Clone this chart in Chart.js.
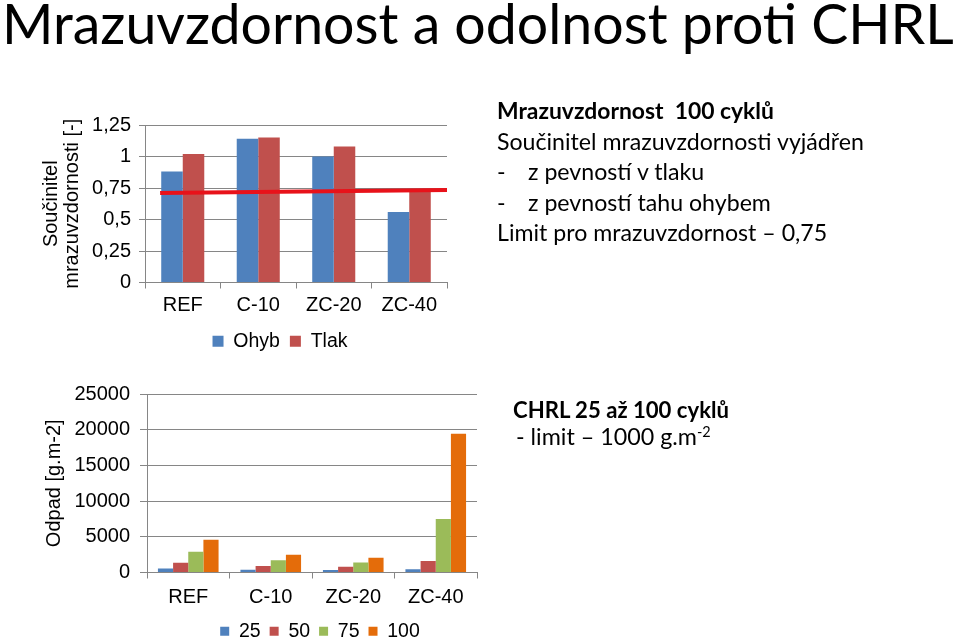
<!DOCTYPE html>
<html><head><meta charset="utf-8">
<script src="https://cdn.jsdelivr.net/npm/chart.js@4/dist/chart.umd.min.js"></script>
<style>
html,body{margin:0;padding:0;background:#fff;width:960px;height:639px;overflow:hidden;position:relative;}
#w1{position:absolute;left:30px;top:100px;width:440px;height:261px;}
#w2{position:absolute;left:30px;top:372px;width:460px;height:279px;}
#ov{position:absolute;left:0;top:0;}
#ov text{fill:#000;white-space:pre;}
</style></head><body>
<div id="w1"><canvas id="c1"></canvas></div>
<div id="w2"><canvas id="c2"></canvas></div>
<svg id="ov" width="960" height="639" xmlns="http://www.w3.org/2000/svg">
  <text data-w="952" x="2" y="44" font-family="Lato, 'Open Sans', sans-serif" font-size="60">Mrazuvzdornost a odolnost proti CHRL</text>
  <text data-w="277" x="497" y="119" font-family="Lato, 'Open Sans', sans-serif" font-weight="bold" font-size="24">Mrazuvzdornost  100 cyklů</text>
  <text class="blk" data-w="367" x="497" y="149.5" font-family="Lato, 'Open Sans', sans-serif" font-size="24">Součinitel mrazuvzdornosti vyjádřen</text>
  <text class="blk" x="497" y="180" font-family="Lato, 'Open Sans', sans-serif" font-size="24">-</text>
  <text class="blk" x="528" y="180" font-family="Lato, 'Open Sans', sans-serif" font-size="24">z pevností v tlaku</text>
  <text class="blk" x="497" y="210.5" font-family="Lato, 'Open Sans', sans-serif" font-size="24">-</text>
  <text class="blk" x="528" y="210.5" font-family="Lato, 'Open Sans', sans-serif" font-size="24">z pevností tahu ohybem</text>
  <text class="blk" x="497" y="241" font-family="Lato, 'Open Sans', sans-serif" font-size="24">Limit pro mrazuvzdornost – 0,75</text>
  <text data-w="216" x="513" y="418" font-family="Lato, 'Open Sans', sans-serif" font-weight="bold" font-size="22">CHRL 25 až 100 cyklů</text>
  <text id="lim" x="516" y="445" font-family="Lato, 'Open Sans', sans-serif" font-size="20">- limit – 1000 g.m<tspan id="sup" dy="-8" font-size="13">-2</tspan></text>
</svg>
<script>
// ---- data ----
const categories = ['REF', 'C-10', 'ZC-20', 'ZC-40'];
const ohyb = [0.88, 1.14, 1.00, 0.56];
const tlak = [1.02, 1.15, 1.08, 0.74];
// limit line: positions in category units along the x axis (0 = left edge of REF, 4 = right edge of ZC-40)
const limitX = [0.2, 4.0];
const limitY = [0.71, 0.735];
const topTickLabels = ['0', '0,25', '0,5', '0,75', '1', '1,25'];

const s25  = [550, 400, 350, 450];
const s50  = [1350, 900, 800, 1600];
const s75  = [2900, 1700, 1400, 7500];
const s100 = [4600, 2500, 2050, 19450];
const bottomTickLabels = ['0', '5000', '10000', '15000', '20000', '25000'];

// ---- text fitting (SVG overlay) ----
(function fitTexts(){
  const texts = document.querySelectorAll('#ov text[data-w]');
  let blkSize = null;
  texts.forEach(t => {
    const fs = parseFloat(t.getAttribute('font-size'));
    const w = t.getComputedTextLength();
    const target = parseFloat(t.getAttribute('data-w'));
    const nfs = fs * target / w;
    t.setAttribute('font-size', nfs.toFixed(2));
    if (t.classList.contains('blk')) blkSize = nfs;
  });
  if (blkSize) document.querySelectorAll('#ov text.blk').forEach(t => t.setAttribute('font-size', blkSize.toFixed(2)));
  const lim = document.getElementById('lim');
  const sup = document.getElementById('sup');
  const fs = parseFloat(lim.getAttribute('font-size'));
  const wAll = lim.getComputedTextLength();
  const wSup = sup.getComputedTextLength();
  const nfs = fs * 181 / (wAll - wSup);
  lim.setAttribute('font-size', nfs.toFixed(2));
  sup.setAttribute('font-size', (nfs * 0.62).toFixed(2));
})();

// ---- charts ----
const GRID = '#868686';
const FONT = 'Liberation Sans, Arial, sans-serif';

const shiftLegend = {
  id: 'shiftLegend',
  afterLayout(chart, args, opts) {
    const lg = chart.legend;
    if (lg && opts && opts.dx) { lg.left += opts.dx; lg.right += opts.dx; }
  }
};

function fmt(labels, step) {
  return (v) => {
    const i = Math.round(v / step);
    return labels[i] !== undefined ? labels[i] : '';
  };
}

const TOP_PLOT_W = 302; // chart area width of the upper chart (px)

new Chart(document.getElementById('c1'), {
  type: 'bar',
  plugins: [shiftLegend],
  data: {
    datasets: [
      { label: 'Ohyb', data: ohyb.map((v, i) => ({ x: i + 0.5, y: v })), backgroundColor: '#4f81bd', order: 1 },
      { label: 'Tlak', data: tlak.map((v, i) => ({ x: i + 0.5, y: v })), backgroundColor: '#c0504d', order: 1 },
      { type: 'line', label: 'limit',
        data: limitX.map((x, i) => ({ x: x, y: limitY[i] })),
        borderColor: '#e8121a', borderWidth: 4, pointRadius: 0, fill: false, order: 0 }
    ]
  },
  options: {
    responsive: true, maintainAspectRatio: false, animation: false,
    layout: { padding: { top: 25, right: 23, bottom: 0, left: 0 } },
    datasets: { bar: { categoryPercentage: 0.57, barPercentage: 1.0 } },
    scales: {
      x: {
        type: 'linear', min: 0, max: categories.length, offset: false,
        afterFit: s => { s.height = 39; },
        grid: { display: true, offset: false, drawOnChartArea: false, drawTicks: true, tickLength: 6, color: GRID },
        border: { display: true, color: GRID, width: 1 },
        ticks: { stepSize: 1, color: '#000', font: { family: FONT, size: 20 }, padding: 5, maxRotation: 0,
                 autoSkip: false, labelOffset: TOP_PLOT_W / categories.length / 2,
                 callback: (v) => (categories[v] !== undefined ? categories[v] : '') }
      },
      y: {
        min: 0, max: 1.25,
        afterFit: s => { s.width = 115; },
        grid: { color: GRID, tickLength: 6, drawTicks: true },
        border: { display: true, color: GRID, width: 1 },
        ticks: { stepSize: 0.25, color: '#000', font: { family: FONT, size: 20 }, padding: 8,
                 callback: fmt(topTickLabels, 0.25) },
        title: { display: true, text: ['Součinitel', 'mrazuvzdornosti [-]'], color: '#000',
                 font: { family: FONT, size: 20, lineHeight: 1.05 }, padding: { top: 10.5, bottom: 0 } }
      }
    },
    plugins: {
      tooltip: { enabled: false },
      shiftLegend: { dx: -16 },
      legend: {
        position: 'bottom', fullSize: false,
        labels: { color: '#000', font: { family: FONT, size: 19.5 }, boxWidth: 11, boxHeight: 11, padding: 10,
                  filter: (item) => item.datasetIndex < 2 }
      }
    }
  }
});

new Chart(document.getElementById('c2'), {
  type: 'bar',
  plugins: [shiftLegend],
  data: {
    labels: categories,
    datasets: [
      { label: '25', data: s25, backgroundColor: '#4f81bd' },
      { label: '50', data: s50, backgroundColor: '#c0504d' },
      { label: '75', data: s75, backgroundColor: '#9bbb59' },
      { label: '100', data: s100, backgroundColor: '#e46c0a' }
    ]
  },
  options: {
    responsive: true, maintainAspectRatio: false, animation: false,
    layout: { padding: { top: 20, right: 13, bottom: 0, left: 0 } },
    datasets: { bar: { categoryPercentage: 0.735, barPercentage: 1.0 } },
    scales: {
      x: {
        afterFit: s => { s.height = 40; },
        grid: { display: true, offset: true, drawOnChartArea: false, drawTicks: true, tickLength: 6, color: GRID },
        border: { display: true, color: GRID, width: 1 },
        ticks: { color: '#000', font: { family: FONT, size: 20 }, padding: 7, maxRotation: 0 }
      },
      y: {
        min: 0, max: 25000,
        afterFit: s => { s.width = 117; },
        grid: { color: GRID, tickLength: 7, drawTicks: true },
        border: { display: true, color: GRID, width: 1 },
        ticks: { stepSize: 5000, color: '#000', font: { family: FONT, size: 20 }, padding: 10,
                 callback: fmt(bottomTickLabels, 5000) },
        title: { display: true, text: 'Odpad [g.m-2]', color: '#000',
                 font: { family: FONT, size: 20, lineHeight: 1.2 }, padding: { top: 12, bottom: 0 } }
      }
    },
    plugins: {
      tooltip: { enabled: false },
      shiftLegend: { dx: 8 },
      legend: {
        position: 'bottom', fullSize: false,
        labels: { color: '#000', font: { family: FONT, size: 19.5 }, boxWidth: 9, boxHeight: 9, padding: 9 }
      }
    }
  }
});
</script>
</body></html>
